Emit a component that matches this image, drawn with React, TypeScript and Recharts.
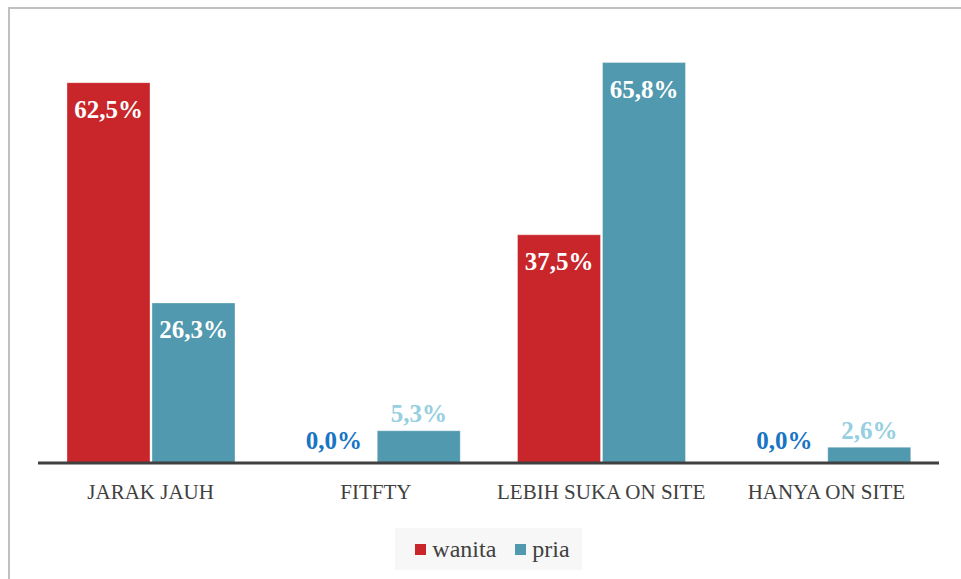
import React from 'react';
import { BarChart, Bar, XAxis, YAxis, Legend, LabelList } from 'recharts';

const categories = ['JARAK JAUH', 'FITFTY', 'LEBIH SUKA ON SITE', 'HANYA ON SITE'];
const wanita = [62.5, 0.0, 37.5, 0.0];
const pria = [26.3, 5.3, 65.8, 2.6];

const RED = '#c8262a';
const TEAL = '#5199ae';
const FONT = '"Liberation Serif", serif';

const data = categories.map((name, i) => ({ name, wanita: wanita[i], pria: pria[i] }));

const fmt = (v: number) => v.toFixed(1).replace('.', ',') + '%';

// label inside the bar when tall, above it otherwise
const makeLabel = (smallColor: string) => (props: any) => {
  const { x, y, width, height, value } = props;
  const text = String(value);
  const cx = Number(x) + Number(width) / 2;
  const h = Math.abs(Number(height) || 0);
  const inside = h > 60;
  let ly = inside ? Number(y) + 27 : Number(y) - 17;
  if (h < 1) ly = Number(y) - 22;
  return (
    <text
      x={cx}
      y={ly}
      textAnchor="middle"
      dominantBaseline="central"
      fontFamily={FONT}
      fontWeight="bold"
      fontSize={25}
      fill={inside ? '#ffffff' : smallColor}
    >
      {text}
    </text>
  );
};

const LegendBox = () => (
  <div style={{ display: 'flex', justifyContent: 'center', paddingTop: 25 }}>
    <div
      style={{
        display: 'flex',
        alignItems: 'center',
        background: '#f7f7f7',
        height: 42,
        padding: '0 12px 0 20px',
        fontFamily: FONT,
        fontSize: 24,
        color: '#404040',
      }}
    >
      <span style={{ width: 11, height: 11, background: RED, marginRight: 6 }} />
      <span style={{ marginRight: 19 }}>wanita</span>
      <span style={{ width: 11, height: 11, background: TEAL, marginRight: 6 }} />
      <span>pria</span>
    </div>
  </div>
);

export default function App() {
  return (
    <div style={{ position: 'fixed', left: 0, top: 0, width: 961, height: 579, background: '#fff', overflow: 'hidden' }}>
      <div
        style={{
          position: 'absolute',
          left: 8,
          top: 7,
          width: 970,
          height: 600,
          border: '2px solid #c0c0c0',
          boxSizing: 'border-box',
        }}
      />
      <BarChart
        width={961}
        height={579}
        data={data}
        margin={{ top: 37, right: 22, left: 38, bottom: 26 }}
        barGap={2}
      >
        <YAxis hide domain={[0, 70]} />
        <Legend verticalAlign="bottom" height={50} content={() => <LegendBox />} />
        <Bar
          dataKey="wanita"
          fill={RED}
          barSize={83}
          minPointSize={(v: number) => (v === 0 ? 0.5 : 0)}
          stroke="#ffffff"
          strokeOpacity={0.35}
          isAnimationActive={false}
        >
          <LabelList dataKey={(d: any) => fmt(d.wanita)} content={makeLabel('#1874c4')} />
        </Bar>
        <Bar dataKey="pria" fill={TEAL} barSize={83} stroke="#ffffff" strokeOpacity={0.35} isAnimationActive={false}>
          <LabelList dataKey={(d: any) => fmt(d.pria)} content={makeLabel('#96cfe0')} />
        </Bar>
        <XAxis
          dataKey="name"
          height={40}
          tickLine={false}
          axisLine={{ stroke: '#404040', strokeWidth: 3 }}
          tick={{ fill: '#404040', fontFamily: FONT, fontSize: 21 }}
          tickMargin={15}
        />
      </BarChart>
    </div>
  );
}
